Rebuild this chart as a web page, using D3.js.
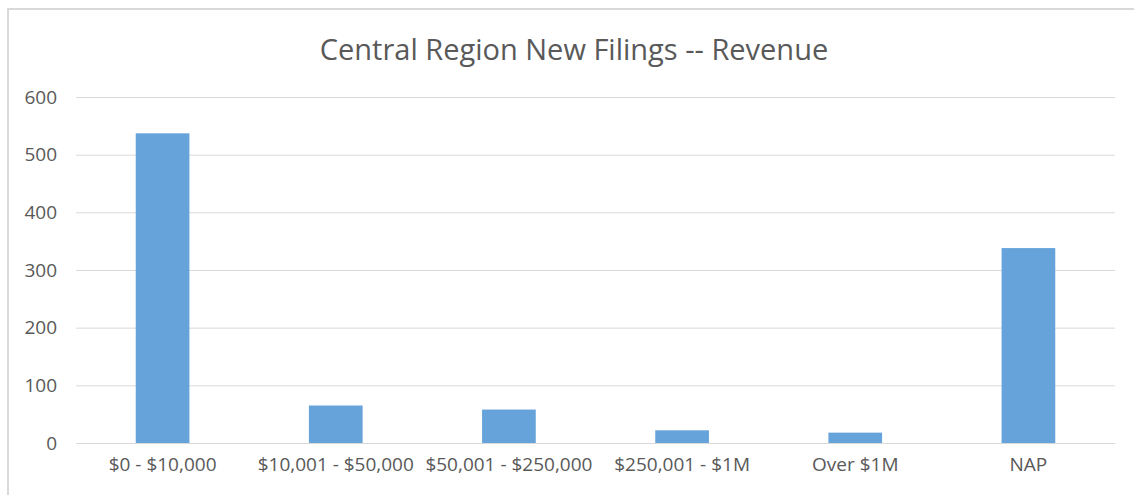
<!DOCTYPE html>
<html>
<head>
<meta charset="utf-8">
<script src="https://cdn.jsdelivr.net/npm/d3@7"></script>
<style>
  body { margin: 0; background: #fff; }
  text { font-family: "Open Sans", "Noto Sans", sans-serif; fill: #595959; }
</style>
</head>
<body>
<div id="chart"></div>
<script>
// Chart data
const categories = ["$0 - $10,000", "$10,001 - $50,000", "$50,001 - $250,000",
    "$250,001 - $1M", "Over $1M", "NAP"];
const filings = [537, 65, 58, 22, 18, 338];
const yTicks = [0, 100, 200, 300, 400, 500, 600];
const title = "Central Region New Filings -- Revenue";

const data = categories.map((c, i) => ({ category: c, value: filings[i] }));

const width = 1134, height = 495;
const margin = { top: 97, right: 19, bottom: 52, left: 76 };

const svg = d3.select("#chart")
    .append("svg")
    .attr("width", width)
    .attr("height", height);

// chart frame (top and left edges visible)
svg.append("rect").attr("x", 7).attr("y", 8).attr("width", width).attr("height", 2).attr("fill", "#d9d9d9");
svg.append("rect").attr("x", 7).attr("y", 8).attr("width", 2).attr("height", height).attr("fill", "#d9d9d9");

const x = d3.scaleBand()
    .domain(categories)
    .range([margin.left, width - margin.right])
    .paddingInner(0.69)
    .paddingOuter(0.345);

const y = d3.scaleLinear()
    .domain([0, 600])
    .range([height - margin.bottom, margin.top]);

// Gridlines
svg.append("g")
    .selectAll("line")
    .data(yTicks)
    .join("line")
    .attr("x1", margin.left)
    .attr("x2", width - margin.right)
    .attr("y1", d => y(d) + 0.5)
    .attr("y2", d => y(d) + 0.5)
    .attr("stroke", "#d9d9d9")
    .attr("stroke-width", 1);

// Bars
svg.append("g")
    .selectAll("rect")
    .data(data)
    .join("rect")
    .attr("x", d => x(d.category))
    .attr("y", d => y(d.value))
    .attr("width", x.bandwidth())
    .attr("height", d => y(0) - y(d.value))
    .attr("fill", "#66a3da");

// Y axis
const yAxis = svg.append("g")
    .attr("transform", "translate(" + (margin.left - 19) + ",0)")
    .call(d3.axisLeft(y).tickValues(yTicks).tickSize(0).tickPadding(0));
yAxis.select(".domain").remove();
yAxis.selectAll("text").style("font-size", "19px").attr("fill", "#595959");

// X axis
const xAxis = svg.append("g")
    .attr("transform", "translate(0," + y(0) + ")")
    .call(d3.axisBottom(x).tickSize(0).tickPadding(15));
xAxis.select(".domain").remove();
xAxis.selectAll("text").style("font-size", "19px").attr("fill", "#595959");

// Title
svg.append("text")
    .attr("x", 574)
    .attr("y", 60)
    .attr("text-anchor", "middle")
    .style("font-size", "29px")
    .text(title);
</script>
</body>
</html>
